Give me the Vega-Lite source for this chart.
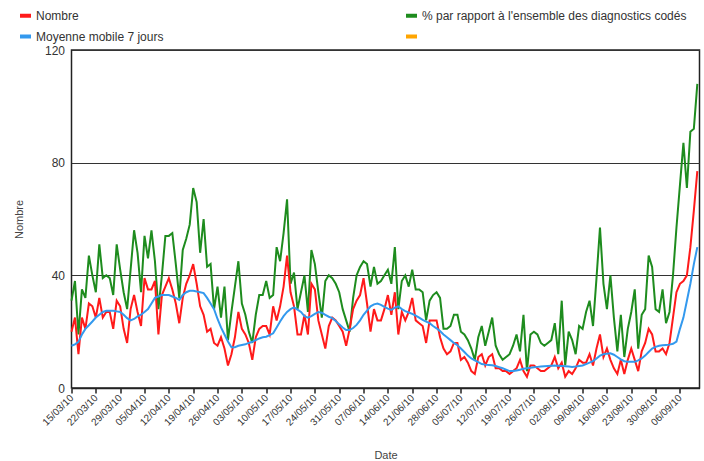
{
  "$schema": "https://vega.github.io/schema/vega-lite/v6.json",
  "width": 628,
  "height": 338,
  "autosize": "none",
  "padding": {"left": 71.5, "top": 50, "right": 4.5, "bottom": 73},
  "background": "white",
  "config": {
    "view": {"stroke": "#222", "strokeWidth": 1.5},
    "font": "Liberation Sans",
    "axis": {"labelFont": "Liberation Sans", "titleFont": "Liberation Sans", "labelColor": "#333", "titleColor": "#444", "titleFontWeight": "normal"},
    "legend": {"labelFont": "Liberation Sans"}
  },
  "data": {"values": [
    {"d":"2010-03-15","p":31,"n":20,"m":15},
    {"d":"2010-03-16","p":38,"n":25,"m":15.5},
    {"d":"2010-03-17","p":19,"n":12,"m":16.4},
    {"d":"2010-03-18","p":35,"n":25,"m":19},
    {"d":"2010-03-19","p":32,"n":21,"m":21},
    {"d":"2010-03-20","p":47,"n":30,"m":22.3},
    {"d":"2010-03-21","p":40,"n":29,"m":23.6},
    {"d":"2010-03-22","p":34,"n":25,"m":25},
    {"d":"2010-03-23","p":51,"n":32,"m":26},
    {"d":"2010-03-24","p":39,"n":25,"m":27},
    {"d":"2010-03-25","p":40,"n":27,"m":27.4},
    {"d":"2010-03-26","p":39,"n":27,"m":27.4},
    {"d":"2010-03-27","p":33,"n":21,"m":27.4},
    {"d":"2010-03-28","p":51,"n":31,"m":27.2},
    {"d":"2010-03-29","p":42,"n":29,"m":27},
    {"d":"2010-03-30","p":34,"n":21,"m":26},
    {"d":"2010-03-31","p":28,"n":16,"m":24.8},
    {"d":"2010-04-01","p":42,"n":28,"m":24},
    {"d":"2010-04-02","p":56,"n":33,"m":24.5},
    {"d":"2010-04-03","p":48,"n":27,"m":25.4},
    {"d":"2010-04-04","p":34,"n":22,"m":26},
    {"d":"2010-04-05","p":54,"n":39,"m":27},
    {"d":"2010-04-06","p":46,"n":35,"m":28},
    {"d":"2010-04-07","p":56,"n":35,"m":30},
    {"d":"2010-04-08","p":45,"n":38,"m":32},
    {"d":"2010-04-09","p":28,"n":19,"m":32.5},
    {"d":"2010-04-10","p":40,"n":33,"m":33},
    {"d":"2010-04-11","p":54,"n":36,"m":33},
    {"d":"2010-04-12","p":54,"n":39,"m":33},
    {"d":"2010-04-13","p":55,"n":35,"m":32.5},
    {"d":"2010-04-14","p":44,"n":30,"m":32},
    {"d":"2010-04-15","p":32,"n":23,"m":31.3},
    {"d":"2010-04-16","p":49,"n":32,"m":33},
    {"d":"2010-04-17","p":53,"n":37,"m":34},
    {"d":"2010-04-18","p":58,"n":40,"m":34.5},
    {"d":"2010-04-19","p":71,"n":44,"m":34.5},
    {"d":"2010-04-20","p":66,"n":37,"m":34.3},
    {"d":"2010-04-21","p":48,"n":29,"m":34},
    {"d":"2010-04-22","p":60,"n":26,"m":33.7},
    {"d":"2010-04-23","p":43,"n":20,"m":32},
    {"d":"2010-04-24","p":44,"n":21,"m":30},
    {"d":"2010-04-25","p":28,"n":16,"m":28},
    {"d":"2010-04-26","p":36,"n":15,"m":24.5},
    {"d":"2010-04-27","p":25,"n":18,"m":21.5},
    {"d":"2010-04-28","p":36,"n":14,"m":19},
    {"d":"2010-04-29","p":17,"n":8,"m":16.5},
    {"d":"2010-04-30","p":27,"n":12,"m":14.5},
    {"d":"2010-05-01","p":36,"n":18,"m":14.5},
    {"d":"2010-05-02","p":45,"n":27,"m":15},
    {"d":"2010-05-03","p":30,"n":21,"m":15.3},
    {"d":"2010-05-04","p":26,"n":19,"m":15.5},
    {"d":"2010-05-05","p":20,"n":16,"m":16},
    {"d":"2010-05-06","p":16,"n":10,"m":16.4},
    {"d":"2010-05-07","p":26,"n":18,"m":17},
    {"d":"2010-05-08","p":33,"n":21,"m":17.6},
    {"d":"2010-05-09","p":33,"n":22,"m":18},
    {"d":"2010-05-10","p":38,"n":22,"m":18.2},
    {"d":"2010-05-11","p":32,"n":19,"m":18.8},
    {"d":"2010-05-12","p":33,"n":29,"m":19.4},
    {"d":"2010-05-13","p":50,"n":24,"m":21.5},
    {"d":"2010-05-14","p":45,"n":29,"m":23.6},
    {"d":"2010-05-15","p":55,"n":36,"m":25.5},
    {"d":"2010-05-16","p":67,"n":47,"m":27},
    {"d":"2010-05-17","p":37,"n":34,"m":28},
    {"d":"2010-05-18","p":41,"n":29,"m":28.6},
    {"d":"2010-05-19","p":28,"n":19,"m":27.8},
    {"d":"2010-05-20","p":34,"n":19,"m":27},
    {"d":"2010-05-21","p":40,"n":26,"m":25.5},
    {"d":"2010-05-22","p":27,"n":19,"m":25},
    {"d":"2010-05-23","p":49,"n":37,"m":25.5},
    {"d":"2010-05-24","p":44,"n":35,"m":26.3},
    {"d":"2010-05-25","p":34,"n":24,"m":27},
    {"d":"2010-05-26","p":25,"n":19,"m":26.7},
    {"d":"2010-05-27","p":38,"n":14,"m":26},
    {"d":"2010-05-28","p":40,"n":22,"m":25.3},
    {"d":"2010-05-29","p":39,"n":25,"m":24.8},
    {"d":"2010-05-30","p":37,"n":24,"m":23.8},
    {"d":"2010-05-31","p":34,"n":22,"m":22.6},
    {"d":"2010-06-01","p":28,"n":20,"m":21.5},
    {"d":"2010-06-02","p":24,"n":15,"m":20.6},
    {"d":"2010-06-03","p":20,"n":21,"m":20.6},
    {"d":"2010-06-04","p":32,"n":28,"m":21.3},
    {"d":"2010-06-05","p":40,"n":31,"m":22.4},
    {"d":"2010-06-06","p":43,"n":33,"m":24},
    {"d":"2010-06-07","p":45,"n":39,"m":26},
    {"d":"2010-06-08","p":44,"n":30,"m":27.5},
    {"d":"2010-06-09","p":36,"n":20,"m":29},
    {"d":"2010-06-10","p":43,"n":28,"m":29.7},
    {"d":"2010-06-11","p":37,"n":24,"m":30},
    {"d":"2010-06-12","p":38,"n":24,"m":29.5},
    {"d":"2010-06-13","p":40,"n":28,"m":28.8},
    {"d":"2010-06-14","p":42,"n":33,"m":28.2},
    {"d":"2010-06-15","p":37,"n":26,"m":27.7},
    {"d":"2010-06-16","p":50,"n":34,"m":28.5},
    {"d":"2010-06-17","p":28,"n":19,"m":29},
    {"d":"2010-06-18","p":38,"n":27,"m":28},
    {"d":"2010-06-19","p":40,"n":24,"m":27.3},
    {"d":"2010-06-20","p":36,"n":27,"m":26.8},
    {"d":"2010-06-21","p":42,"n":32,"m":26.3},
    {"d":"2010-06-22","p":35,"n":24,"m":25.7},
    {"d":"2010-06-23","p":35,"n":23,"m":25},
    {"d":"2010-06-24","p":34,"n":22,"m":24.2},
    {"d":"2010-06-25","p":24,"n":16,"m":23.6},
    {"d":"2010-06-26","p":31,"n":24,"m":23},
    {"d":"2010-06-27","p":33,"n":24,"m":22},
    {"d":"2010-06-28","p":34,"n":24,"m":21.2},
    {"d":"2010-06-29","p":32,"n":18,"m":20.2},
    {"d":"2010-06-30","p":21,"n":14,"m":19},
    {"d":"2010-07-01","p":21,"n":12,"m":18},
    {"d":"2010-07-02","p":22,"n":13,"m":17},
    {"d":"2010-07-03","p":26,"n":16,"m":16},
    {"d":"2010-07-04","p":26,"n":16,"m":15.2},
    {"d":"2010-07-05","p":20,"n":10,"m":14},
    {"d":"2010-07-06","p":19,"n":11,"m":12.8},
    {"d":"2010-07-07","p":17,"n":9,"m":11.5},
    {"d":"2010-07-08","p":14,"n":6,"m":10.5},
    {"d":"2010-07-09","p":10,"n":5,"m":9.8},
    {"d":"2010-07-10","p":18,"n":11,"m":9.2},
    {"d":"2010-07-11","p":22,"n":12,"m":8.5},
    {"d":"2010-07-12","p":15,"n":8,"m":8.3},
    {"d":"2010-07-13","p":20,"n":11,"m":8.2},
    {"d":"2010-07-14","p":25,"n":12,"m":8.1},
    {"d":"2010-07-15","p":15,"n":7,"m":7.8},
    {"d":"2010-07-16","p":12,"n":7,"m":7.4},
    {"d":"2010-07-17","p":10,"n":6,"m":7},
    {"d":"2010-07-18","p":11,"n":6,"m":6.5},
    {"d":"2010-07-19","p":12,"n":5,"m":6},
    {"d":"2010-07-20","p":15,"n":6,"m":6},
    {"d":"2010-07-21","p":19,"n":7,"m":6.2},
    {"d":"2010-07-22","p":13,"n":10,"m":6.5},
    {"d":"2010-07-23","p":26,"n":6,"m":6.8},
    {"d":"2010-07-24","p":6,"n":4,"m":7},
    {"d":"2010-07-25","p":19,"n":8,"m":7.2},
    {"d":"2010-07-26","p":20,"n":8,"m":7.4},
    {"d":"2010-07-27","p":19,"n":7,"m":7.5},
    {"d":"2010-07-28","p":16,"n":6,"m":7.6},
    {"d":"2010-07-29","p":15,"n":6,"m":7.7},
    {"d":"2010-07-30","p":16,"n":7,"m":7.8},
    {"d":"2010-07-31","p":17,"n":8,"m":7.9},
    {"d":"2010-08-01","p":23,"n":11,"m":8},
    {"d":"2010-08-02","p":12,"n":7,"m":7.9},
    {"d":"2010-08-03","p":31,"n":9,"m":7.8},
    {"d":"2010-08-04","p":8,"n":4,"m":7.7},
    {"d":"2010-08-05","p":20,"n":6,"m":7.6},
    {"d":"2010-08-06","p":17,"n":5,"m":7.5},
    {"d":"2010-08-07","p":12,"n":7,"m":7.6},
    {"d":"2010-08-08","p":22,"n":10,"m":7.8},
    {"d":"2010-08-09","p":21,"n":9,"m":8},
    {"d":"2010-08-10","p":27,"n":9,"m":8.5},
    {"d":"2010-08-11","p":31,"n":12,"m":9},
    {"d":"2010-08-12","p":22,"n":8,"m":9.5},
    {"d":"2010-08-13","p":39,"n":14,"m":10.5},
    {"d":"2010-08-14","p":57,"n":19,"m":11.5},
    {"d":"2010-08-15","p":37,"n":11,"m":12},
    {"d":"2010-08-16","p":28,"n":14,"m":12.2},
    {"d":"2010-08-17","p":40,"n":10,"m":12.3},
    {"d":"2010-08-18","p":25,"n":7,"m":11.8},
    {"d":"2010-08-19","p":13,"n":5,"m":11},
    {"d":"2010-08-20","p":26,"n":10,"m":10.2},
    {"d":"2010-08-21","p":11,"n":5,"m":9.5},
    {"d":"2010-08-22","p":21,"n":10,"m":9.3},
    {"d":"2010-08-23","p":27,"n":14,"m":9.3},
    {"d":"2010-08-24","p":35,"n":10,"m":9.3},
    {"d":"2010-08-25","p":14,"n":6,"m":9.8},
    {"d":"2010-08-26","p":26,"n":13,"m":10.5},
    {"d":"2010-08-27","p":28,"n":16,"m":11.5},
    {"d":"2010-08-28","p":47,"n":21,"m":12.8},
    {"d":"2010-08-29","p":43,"n":19,"m":14},
    {"d":"2010-08-30","p":28,"n":13,"m":14.6},
    {"d":"2010-08-31","p":27,"n":13,"m":15},
    {"d":"2010-09-01","p":35,"n":14,"m":15.2},
    {"d":"2010-09-02","p":23,"n":12,"m":15.3},
    {"d":"2010-09-03","p":27,"n":16,"m":15.4},
    {"d":"2010-09-04","p":40,"n":25,"m":15.7},
    {"d":"2010-09-05","p":57,"n":34,"m":16.5},
    {"d":"2010-09-06","p":72,"n":37,"m":21},
    {"d":"2010-09-07","p":87,"n":38,"m":25},
    {"d":"2010-09-08","p":71,"n":40,"m":31},
    {"d":"2010-09-09","p":91,"n":50,"m":37},
    {"d":"2010-09-10","p":92,"n":63,"m":44},
    {"d":"2010-09-11","p":108,"n":77,"m":50}
  ]},
  "transform": [{"fold": ["p", "n", "m"], "as": ["s", "v"]}],
  "mark": {"type": "line", "strokeWidth": 2},
  "encoding": {
    "x": {
      "field": "d",
      "type": "temporal",
      "scale": {
        "type": "utc",
        "domain": [
          {"year": 2010, "month": 3, "date": 15, "utc": true},
          {"year": 2010, "month": 9, "date": 11, "hours": 15, "utc": true}
        ]
      },
      "axis": {
        "title": "Date",
        "titleFontSize": 11,
        "titleY": 70,
        "titleBaseline": "alphabetic",
        "format": "%d/%m/%y",
        "values": [
          {"year": 2010, "month": 3, "date": 15, "utc": true},
          {"year": 2010, "month": 3, "date": 22, "utc": true},
          {"year": 2010, "month": 3, "date": 29, "utc": true},
          {"year": 2010, "month": 4, "date": 5, "utc": true},
          {"year": 2010, "month": 4, "date": 12, "utc": true},
          {"year": 2010, "month": 4, "date": 19, "utc": true},
          {"year": 2010, "month": 4, "date": 26, "utc": true},
          {"year": 2010, "month": 5, "date": 3, "utc": true},
          {"year": 2010, "month": 5, "date": 10, "utc": true},
          {"year": 2010, "month": 5, "date": 17, "utc": true},
          {"year": 2010, "month": 5, "date": 24, "utc": true},
          {"year": 2010, "month": 5, "date": 31, "utc": true},
          {"year": 2010, "month": 6, "date": 7, "utc": true},
          {"year": 2010, "month": 6, "date": 14, "utc": true},
          {"year": 2010, "month": 6, "date": 21, "utc": true},
          {"year": 2010, "month": 6, "date": 28, "utc": true},
          {"year": 2010, "month": 7, "date": 5, "utc": true},
          {"year": 2010, "month": 7, "date": 12, "utc": true},
          {"year": 2010, "month": 7, "date": 19, "utc": true},
          {"year": 2010, "month": 7, "date": 26, "utc": true},
          {"year": 2010, "month": 8, "date": 2, "utc": true},
          {"year": 2010, "month": 8, "date": 9, "utc": true},
          {"year": 2010, "month": 8, "date": 16, "utc": true},
          {"year": 2010, "month": 8, "date": 23, "utc": true},
          {"year": 2010, "month": 8, "date": 30, "utc": true},
          {"year": 2010, "month": 9, "date": 6, "utc": true}
        ],
        "labelAngle": -45,
        "labelAlign": "right",
        "labelBaseline": "middle",
        "labelFontSize": 10,
        "labelPadding": 3,
        "labelOverlap": false,
        "labelFlush": false,
        "grid": false,
        "domain": true,
        "domainColor": "#222",
        "domainWidth": 1.5,
        "ticks": true,
        "tickColor": "#222",
        "tickWidth": 1.5,
        "tickSize": 5
      }
    },
    "y": {
      "field": "v",
      "type": "quantitative",
      "scale": {"domain": [0, 120]},
      "axis": {
        "title": "Nombre",
        "titleFontSize": 11,
        "titlePadding": 20,
        "values": [0, 40, 80, 120],
        "labelFontSize": 12,
        "labelPadding": 7,
        "ticks": false,
        "domain": false,
        "grid": true,
        "gridColor": "#333",
        "gridWidth": 1.2
      }
    },
    "color": {
      "field": "s",
      "type": "nominal",
      "scale": {
        "domain": ["n", "m", "p", "o"],
        "range": ["#ff1a1a", "#3399ee", "#1e8c1e", "#ffa500"]
      },
      "legend": {
        "orient": "none",
        "legendX": -53.5,
        "legendY": -42,
        "title": null,
        "columns": 2,
        "columnPadding": 234,
        "rowPadding": 4,
        "symbolType": "stroke",
        "symbolSize": 121,
        "symbolStrokeWidth": 4,
        "labelFontSize": 12,
        "labelColor": "#333",
        "labelOffset": 3,
        "labelLimit": 400,
        "labelExpr": "datum.value == 'n' ? 'Nombre' : datum.value == 'p' ? \"% par rapport à l'ensemble des diagnostics codés\" : datum.value == 'm' ? 'Moyenne mobile 7 jours' : ''"
      }
    }
  }
}
